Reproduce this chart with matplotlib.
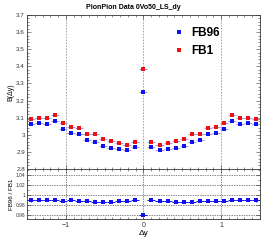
import matplotlib
matplotlib.use("Agg")
import matplotlib.pyplot as plt
import numpy as np
from matplotlib.lines import Line2D
from matplotlib.ticker import AutoMinorLocator, MultipleLocator

# 29 bins in dy from -1.5 to 1.5
edges = np.linspace(-1.5, 1.5, 30)
centers = 0.5 * (edges[:-1] + edges[1:])
half_width = 0.5 * (edges[1] - edges[0])

fb1 = [3.094, 3.100, 3.096, 3.114, 3.069, 3.045, 3.039, 3.006, 3.002, 2.975,
       2.963, 2.953, 2.941, 2.959, 3.383, 2.959, 2.941, 2.953, 2.963, 2.976,
       3.002, 3.006, 3.039, 3.046, 3.069, 3.114, 3.096, 3.100, 3.094]
fb96 = [3.065, 3.071, 3.065, 3.082, 3.035, 3.012, 3.002, 2.967, 2.959, 2.933,
        2.922, 2.918, 2.908, 2.927, 3.248, 2.927, 2.908, 2.918, 2.922, 2.933,
        2.959, 2.967, 3.002, 3.012, 3.035, 3.082, 3.065, 3.071, 3.065]
ratio_err = [0.004, 0.003, 0.003, 0.002, 0.002, 0.002, 0.001, 0.001, 0.001, 0.001,
             0.001, 0.001, 0.001, 0.001, 0.001, 0.001, 0.001, 0.001, 0.001, 0.001,
             0.001, 0.001, 0.001, 0.002, 0.002, 0.002, 0.003, 0.003, 0.004]

fb1 = np.array(fb1)
fb96 = np.array(fb96)
ratio = fb96 / fb1

plt.rcParams["font.family"] = ["Liberation Sans", "DejaVu Sans"]

fig = plt.figure(figsize=(2.66, 2.42), dpi=100)
ax = fig.add_axes([0.1015, 0.302, 0.8755, 0.636])
axr = fig.add_axes([0.1015, 0.095, 0.8755, 0.207], sharex=ax)

ekw = dict(fmt="s", ms=2.3, elinewidth=0.7, capsize=0, mew=0)
ax.errorbar(centers, fb1, xerr=half_width, yerr=0.003, color="#ee1111",
            ecolor="#9999dd", **ekw)
ax.errorbar(centers, fb96, xerr=half_width, yerr=0.003, color="#1111ee",
            ecolor="#9999dd", **ekw)

for x in (-1, 0, 1):
    ax.axvline(x, color="#999999", ls=(0, (2, 1.5)), lw=0.6, zorder=0)
    axr.axvline(x, color="#555555", ls=(0, (2, 1.5)), lw=0.5, zorder=0)
for y in (0.96, 0.98, 1.0, 1.02, 1.04):
    axr.axhline(y, color="#555555", ls=(0, (2, 1.5)), lw=0.5, zorder=0)

axr.errorbar(centers, ratio, xerr=half_width, yerr=ratio_err, color="#1111ee",
             ecolor="#1111ee", **ekw)

ax.set_xlim(-1.5, 1.5)
ax.set_ylim(2.8, 3.7)
axr.set_ylim(0.952, 1.052)

ax.yaxis.set_major_locator(MultipleLocator(0.1))
ax.yaxis.set_minor_locator(AutoMinorLocator(5))
ax.yaxis.set_major_formatter(plt.FuncFormatter(lambda v, p: f"{v:g}"))
axr.yaxis.set_major_locator(MultipleLocator(0.02))
axr.yaxis.set_minor_locator(AutoMinorLocator(2))
axr.yaxis.set_major_formatter(plt.FuncFormatter(lambda v, p: f"{v:g}"))
axr.xaxis.set_major_locator(MultipleLocator(1))
axr.xaxis.set_minor_locator(AutoMinorLocator(10))

for a in (ax, axr):
    a.tick_params(which="both", direction="in", top=True, right=True,
                  width=0.4, colors="#333333")
    a.tick_params(which="major", length=3)
    a.tick_params(which="minor", length=1.5)
    for s in a.spines.values():
        s.set_linewidth(0.6)
        s.set_color("#333333")
ax.tick_params(axis="y", labelsize=4.5, pad=1.5)
ax.tick_params(axis="x", labelbottom=False)
axr.tick_params(axis="y", labelsize=3.5, pad=1.5)
axr.tick_params(axis="x", labelsize=5, pad=2)

ax.set_ylabel("B(\u0394y)", fontsize=5, labelpad=1)
axr.set_ylabel("FB96 / FB1", fontsize=4.5, labelpad=1)
axr.set_xlabel("\u0394y", fontsize=6, labelpad=1)
fig.suptitle("PionPion Data 0Vo50_LS_dy", fontsize=5, fontweight="bold", y=0.985)

handles = [Line2D([], [], ls="none", marker="s", ms=2.6, mew=0, color="#1111ee"),
           Line2D([], [], ls="none", marker="s", ms=2.6, mew=0, color="#ee1111")]
ax.legend(handles, ["FB96", "FB1"], loc="upper left",
          bbox_to_anchor=(0.58, 0.99), frameon=False,
          prop={"size": 8.5, "weight": "bold"}, handlelength=1.0,
          handletextpad=0.6, labelspacing=0.5)

fig.savefig("out.png", dpi=100)
